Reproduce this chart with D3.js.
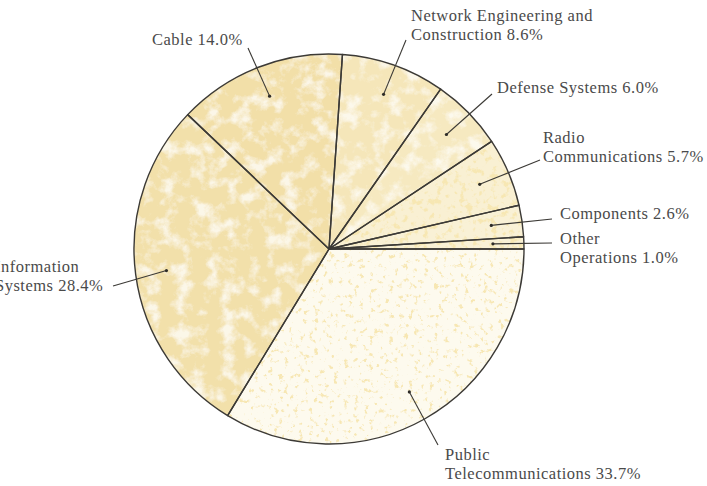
<!DOCTYPE html>
<html>
<head>
<meta charset="utf-8">
<script src="https://cdn.jsdelivr.net/npm/d3@7"></script>
<style>
  html, body { margin: 0; padding: 0; background: #fff; }
  svg { display: block; }
  text { font-family: "Liberation Serif", "DejaVu Serif", serif; fill: #4a4a4a; }
</style>
</head>
<body>
<svg id="chart" width="707" height="486"></svg>
<script>
// Segments, clockwise from three o'clock
const segments = ["Public Telecommunications", "Information Systems", "Cable",
  "Network Engineering and Construction", "Defense Systems", "Radio Communications",
  "Components", "Other Operations"];
const shares = [33.7, 28.4, 14.0, 8.6, 6.0, 5.7, 2.6, 1.0];
const labelLines = [
  ["Public", "Telecommunications 33.7%"],
  ["Information", "Systems 28.4%"],
  ["Cable 14.0%"],
  ["Network Engineering and", "Construction 8.6%"],
  ["Defense Systems 6.0%"],
  ["Radio", "Communications 5.7%"],
  ["Components 2.6%"],
  ["Other", "Operations 1.0%"]
];

// Label placement: text origin (first baseline) and leader end point
const labelLayout = [
  { tx: 445, ty: 460, lx: 438, ly: 445 },
  { tx: -5, ty: 272, lx: 113, ly: 286 },
  { tx: 152, ty: 45, lx: 248, ly: 48 },
  { tx: 411, ty: 21, lx: 406, ly: 40 },
  { tx: 497, ty: 93, lx: 492, ly: 94 },
  { tx: 543, ty: 143, lx: 540, ly: 160 },
  { tx: 560, ty: 219, lx: 552, ly: 219 },
  { tx: 560, ty: 244, lx: 552, ly: 243 }
];
const washColors = ["#fdfaee", "#f2e0aa", "#f2dfa8", "#f5e6b9", "#f6e9c0", "#f9f0d3", "#f9f1d6", "#f9f1d6"];
const washStyle = ["speckle", "wash", "wash", "wash", "wash", "speckle2", "speckle2", "speckle2"];

const svg = d3.select("#chart");
const cx = 329, cy = 249, R = 195;

const defs = svg.append("defs");
// mottled watercolour wash: pale blotches over the base tint
const f1 = defs.append("filter").attr("id", "wash").attr("x", 0).attr("y", 0).attr("width", 1).attr("height", 1);
f1.append("feTurbulence").attr("type", "fractalNoise").attr("baseFrequency", 0.065)
  .attr("numOctaves", 5).attr("seed", 11).attr("result", "noise");
f1.append("feColorMatrix").attr("in", "noise").attr("type", "matrix")
  .attr("values", "0 0 0 0 1  0 0 0 0 1  0 0 0 0 0.97  3.4 0 0 0 -1.6").attr("result", "spots");
f1.append("feComponentTransfer").attr("in", "spots").attr("result", "soft")
  .append("feFuncA").attr("type", "linear").attr("slope", 0.72);
f1.append("feComposite").attr("in", "soft").attr("in2", "SourceGraphic").attr("operator", "atop");

// speckled wash: small yellow flecks over a pale ground
function speckle(id, freq, seed, gain, bias) {
  const f = defs.append("filter").attr("id", id).attr("x", 0).attr("y", 0).attr("width", 1).attr("height", 1);
  f.append("feTurbulence").attr("type", "fractalNoise").attr("baseFrequency", freq)
    .attr("numOctaves", 3).attr("seed", seed).attr("result", "noise");
  f.append("feColorMatrix").attr("in", "noise").attr("type", "matrix")
    .attr("values", `0 0 0 0 0.93  0 0 0 0 0.80  0 0 0 0 0.45  ${gain} 0 0 0 ${bias}`).attr("result", "flecks");
  f.append("feComposite").attr("in", "flecks").attr("in2", "SourceGraphic").attr("operator", "atop");
}
speckle("speckle", 0.2, 3, 7, -4.2);
speckle("speckle2", 0.16, 5, 6, -3.2);

const pie = d3.pie().sort(null).value(d => d)
  .startAngle(Math.PI / 2).endAngle(Math.PI / 2 + 2 * Math.PI);
const arcs = pie(shares);
const arc = d3.arc().innerRadius(0).outerRadius(R);
const dotArc = d3.arc().innerRadius(164).outerRadius(164);

const g = svg.append("g").attr("transform", `translate(${cx},${cy})`);

g.selectAll("path.slice").data(arcs).join("path")
  .attr("class", "slice")
  .attr("d", arc)
  .attr("fill", (d, i) => washColors[i])
  .attr("filter", (d, i) => `url(#${washStyle[i]})`);

g.selectAll("path.edge").data(arcs).join("path")
  .attr("class", "edge")
  .attr("d", arc)
  .attr("fill", "none")
  .attr("stroke", "#3c3a36")
  .attr("stroke-width", 1.4)
  .attr("stroke-linejoin", "round");

// leaders and dots
arcs.forEach((d, i) => {
  const [dx, dy] = dotArc.centroid(d);
  const L = labelLayout[i];
  svg.append("line")
    .attr("x1", cx + dx).attr("y1", cy + dy)
    .attr("x2", L.lx).attr("y2", L.ly)
    .attr("stroke", "#3c3a36").attr("stroke-width", 1.1);
  svg.append("circle")
    .attr("cx", cx + dx).attr("cy", cy + dy).attr("r", 1.6)
    .attr("fill", "#2e2c28");
  const t = svg.append("text")
    .attr("x", L.tx).attr("y", L.ty)
    .style("font-size", "16.5px")
    .style("letter-spacing", "0.5px");
  labelLines[i].forEach((s, k) => {
    t.append("tspan").attr("x", L.tx).attr("dy", k === 0 ? 0 : 18.5).text(s);
  });
});
</script>
</body>
</html>
